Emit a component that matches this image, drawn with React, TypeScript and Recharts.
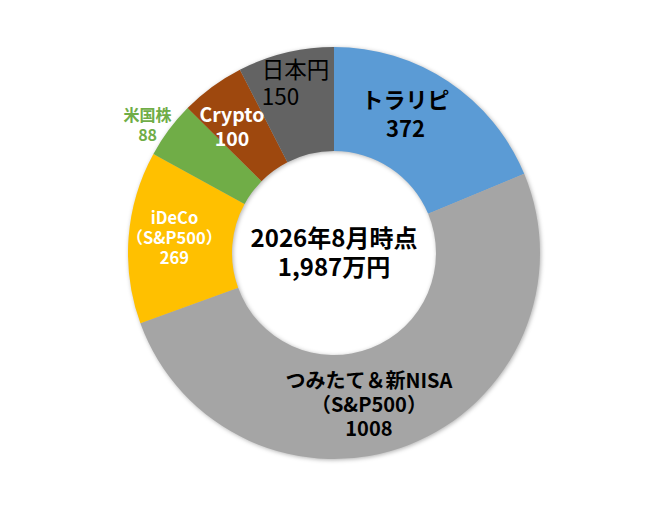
import React from "react";
import { PieChart, Pie, Cell } from "recharts";

const categories = ["トラリピ", "つみたて＆新NISA", "iDeCo", "米国株", "Crypto", "日本円"];
const values = [372, 1008, 269, 88, 100, 150];
const labelLines = [
  ["トラリピ", "372"],
  ["つみたて＆新NISA", "（S&P500）", "1008"],
  ["iDeCo", "（S&P500）", "269"],
  ["米国株", "88"],
  ["Crypto", "100"],
  ["日本円", "150"],
];
const centerLines = ["2026年8月時点", "1,987万円"];
const colors = ["#5B9BD5", "#A5A5A5", "#FFC000", "#70AD47", "#9E480E", "#636363"];

const data = categories.map((name, i) => ({ name, value: values[i], lines: labelLines[i] }));

const FONT = "'Noto Sans CJK JP', 'Noto Sans', sans-serif";

// label style per slice: offset from mid-ring point, font size, weight, colour, line gap, anchor
const labelStyles = [
  { dx: -14, dy: -12, size: 22, weight: 700, color: "#000000", gap: 29, anchor: "middle" },
  { dx: -21, dy: 7, size: 20, weight: 700, color: "#000000", gap: 24, anchor: "middle" },
  { dx: -6, dy: -4, size: 16.5, weight: 700, color: "#FFFFFF", gap: 20, anchor: "middle" },
  { dx: -63, dy: -37, size: 16, weight: 700, color: "#70AD47", gap: 20, anchor: "middle" },
  { dx: -11, dy: -4, size: 19.5, weight: 700, color: "#FFFFFF", gap: 23.5, anchor: "middle" },
  { dx: -36, dy: -22, size: 22.5, weight: 400, color: "#000000", gap: 27.5, anchor: "start" },
];

const RAD = Math.PI / 180;

const MultiText = ({ x, y, lines, size, weight, color, gap, anchor }: any) => {
  const n = lines.length;
  return (
    <text
      x={x}
      y={y}
      textAnchor={anchor}
      dominantBaseline="central"
      fill={color}
      fontSize={size}
      fontWeight={weight}
      fontFamily={FONT}
    >
      {lines.map((t: string, k: number) => (
        <tspan
          key={k}
          x={x}
          dy={k === 0 ? -((n - 1) / 2) * gap : gap}
          dominantBaseline="central"
        >
          {t}
        </tspan>
      ))}
    </text>
  );
};

const renderLabel = (props: any) => {
  const { cx, cy, midAngle, innerRadius, outerRadius, index } = props;
  const st = labelStyles[index];
  const r = (innerRadius + outerRadius) / 2;
  const x = cx + r * Math.cos(-midAngle * RAD) + st.dx;
  const y = cy + r * Math.sin(-midAngle * RAD) + st.dy;
  return (
    <g key={`lbl-${index}`}>
      <MultiText x={x} y={y} lines={data[index].lines} {...st} />
      {index === 0 && (
        <MultiText
          x={cx}
          y={cy - 2.5}
          lines={centerLines}
          size={24}
          weight={700}
          color="#000000"
          gap={29}
          anchor="middle"
        />
      )}
    </g>
  );
};

export default function App() {
  return (
    <div style={{ position: "absolute", left: 0, top: 0, width: 668, height: 507, background: "#FFFFFF" }}>
      <style>{`g:has(> .recharts-pie-sector) { filter: drop-shadow(1.5px 1.5px 2px rgba(0,0,0,0.3)); }`}</style>
      <PieChart width={668} height={507} margin={{ top: 0, right: 0, bottom: 0, left: 0 }}>
        <Pie
          data={data}
          dataKey="value"
          nameKey="name"
          cx={334}
          cy={253}
          innerRadius={102}
          outerRadius={206}
          startAngle={90}
          endAngle={-270}
          stroke="none"
          label={renderLabel}
          labelLine={false}
          isAnimationActive={false}
        >
          {data.map((d, i) => (
            <Cell key={d.name} fill={colors[i]} stroke="none" />
          ))}
        </Pie>
      </PieChart>
    </div>
  );
}
